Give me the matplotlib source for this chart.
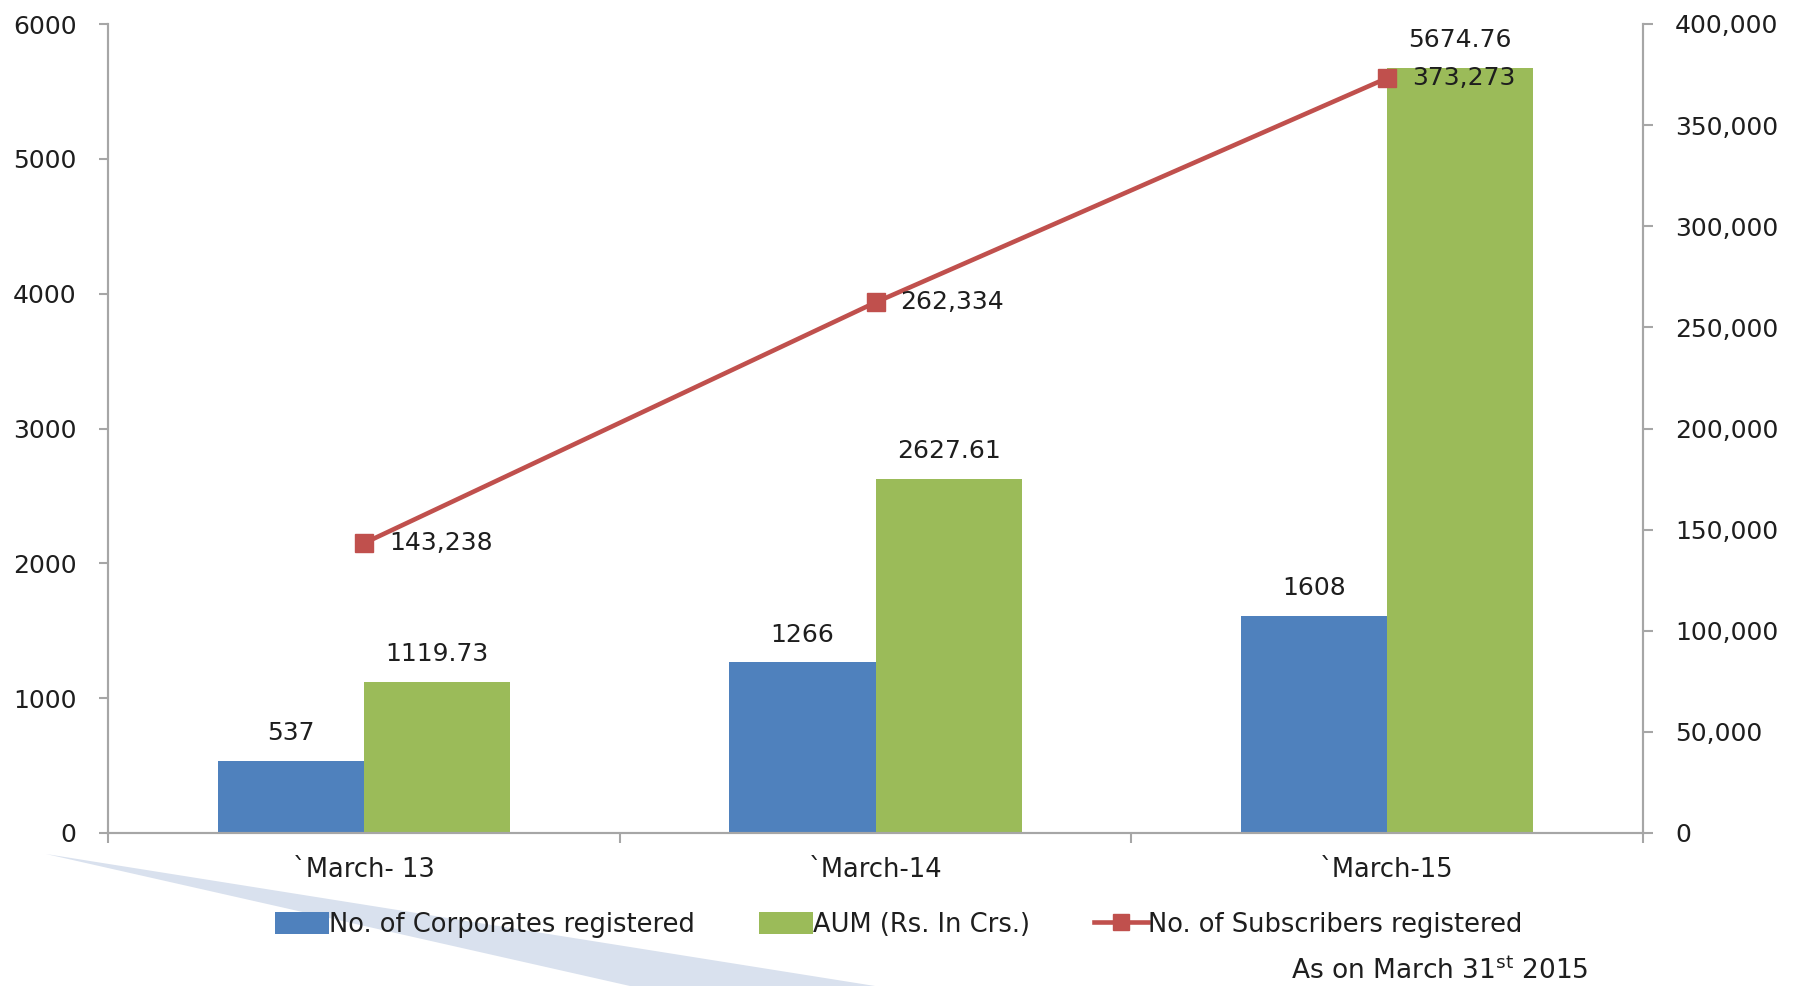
import matplotlib
matplotlib.use("Agg")
import matplotlib.pyplot as plt
from matplotlib.patches import Patch, Polygon
from matplotlib.lines import Line2D
import numpy as np

categories = ["`March- 13", "`March-14", "`March-15"]
corporates = [537, 1266, 1608]
aum = [1119.73, 2627.61, 5674.76]
aum_labels = ["1119.73", "2627.61", "5674.76"]
subscribers = [143238, 262334, 373273]

left_ticks = [0, 1000, 2000, 3000, 4000, 5000, 6000]
right_ticks = [0, 50000, 100000, 150000, 200000, 250000, 300000, 350000, 400000]

BLUE = "#4F81BD"
GREEN = "#9BBB59"
RED = "#C0504D"
SPINE = "#a6a6a6"
TXT = "#1e1e1e"

plt.rcParams['font.family'] = ['DejaVu Sans']

W, H = 1798, 986
fig = plt.figure(figsize=(W / 100, H / 100), dpi=100)
fig.patch.set_facecolor("white")

# decorative wedge (figure pixel coords, y down)
wedge_px = [(46, 854), (875, 986), (630, 986)]
wedge = Polygon([(x / W, 1 - y / H) for x, y in wedge_px], closed=True,
                transform=fig.transFigure, facecolor="#d9e1ee", edgecolor="none", zorder=0)
fig.add_artist(wedge)

ax = fig.add_axes([108 / W, 1 - 833 / H, (1643 - 108) / W, (833 - 24) / H])
ax.set_facecolor("none")
x = np.arange(len(categories))
bw = 1 / 3.5

ax.bar(x - bw / 2, corporates, width=bw, color=BLUE, zorder=2)
ax.bar(x + bw / 2, aum, width=bw, color=GREEN, zorder=2)

ax.set_xlim(-0.5, 2.5)
ax.set_ylim(0, 6000)
ax.set_yticks(left_ticks)
ax.set_yticklabels([str(t) for t in left_ticks])
ax.set_xticks(x)
ax.set_xticklabels(categories)
ax.set_xticks([-0.5, 0.5, 1.5, 2.5], minor=True)
ax.tick_params(axis="x", which="major", length=0, pad=17, labelsize=18.5, labelcolor=TXT)
ax.tick_params(axis="x", which="minor", length=7.5, width=1.5, color=SPINE, direction="out")
ax.tick_params(axis="y", which="major", length=6.5, width=1.5, color=SPINE, pad=16,
               labelsize=18, labelcolor=TXT)

ax.spines["top"].set_visible(False)
for s in ["left", "bottom", "right"]:
    ax.spines[s].set_color(SPINE)
    ax.spines[s].set_linewidth(1.5)

for i, v in enumerate(corporates):
    ax.annotate(str(v), (x[i] - bw / 2, v), xytext=(0, 20), textcoords="offset points",
                ha="center", va="center", fontsize=18, color=TXT)
for i, v in enumerate(aum):
    ax.annotate(aum_labels[i], (x[i] + bw / 2, v), xytext=(0, 20), textcoords="offset points",
                ha="center", va="center", fontsize=18, color=TXT)

ax2 = ax.twinx()
ax2.set_ylim(0, 400000)
ax2.set_yticks(right_ticks)
ax2.set_yticklabels([f"{t:,}" for t in right_ticks])
ax2.tick_params(axis="y", which="major", length=7, width=1.5, color=SPINE, pad=16,
                labelsize=18, labelcolor=TXT)
ax2.spines["top"].set_visible(False)
for s in ["left", "bottom", "right"]:
    ax2.spines[s].set_color(SPINE)
    ax2.spines[s].set_linewidth(1.5)

ax2.plot(x, subscribers, color=RED, linewidth=3.3, marker="s", markersize=13,
         markerfacecolor=RED, markeredgecolor=RED, zorder=3)
for i, v in enumerate(subscribers):
    ax2.annotate(f"{v:,}", (x[i], v), xytext=(18, 0), textcoords="offset points",
                 ha="left", va="center", fontsize=18, color=TXT)

handles = [
    Patch(facecolor=BLUE, edgecolor="none"),
    Patch(facecolor=GREEN, edgecolor="none"),
    Line2D([0], [0], color=RED, linewidth=3.3, marker="s", markersize=12,
           markerfacecolor=RED, markeredgecolor=RED),
]
labels = ["No. of Corporates registered", "AUM (Rs. In Crs.)", "No. of Subscribers registered"]
fig.legend(handles, labels, loc="center", bbox_to_anchor=(0.5, 1 - 925 / H), ncol=3,
           frameon=False, fontsize=18.5, handlelength=2.1, handleheight=0.9,
           handletextpad=0.0, columnspacing=2.5, labelcolor=TXT)

fig.text(1440 / W, 1 - 979 / H, r"As on March 31$^{\mathrm{st}}$ 2015", ha="center", va="baseline",
         fontsize=19, color=TXT)

fig.savefig("out.png", dpi=100, facecolor="white")
